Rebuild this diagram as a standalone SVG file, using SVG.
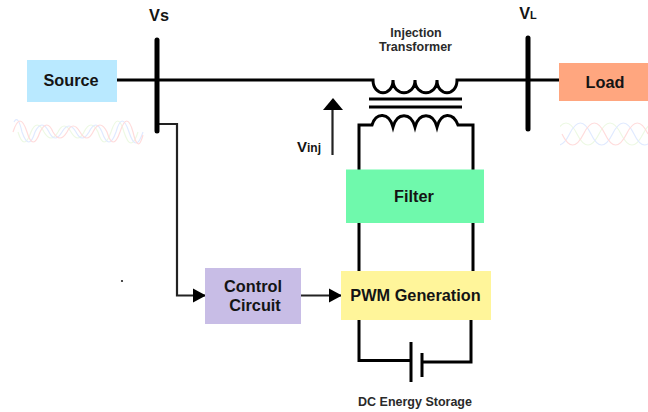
<svg xmlns="http://www.w3.org/2000/svg" width="648" height="412" viewBox="0 0 648 412">
<style>
text{font-family:"Liberation Sans",Arial,sans-serif;font-weight:bold;fill:#141414;text-anchor:middle}
.n{font-size:16.3px}
.s{font-size:12.5px;fill:#2a2a2a}
.w{fill:none;stroke:#000;stroke-width:3;stroke-linejoin:miter}
.bus{fill:none;stroke:#000;stroke-width:5;stroke-linecap:round}
.t{fill:none;stroke:#222;stroke-width:2.2}
.wave{fill:none;stroke-width:1.2}
.r{stroke:#ffdcdc}.b{stroke:#e0eaff}.g{stroke:#edf9e4}
</style>
<defs>
<marker id="ah" markerUnits="userSpaceOnUse" markerWidth="13" markerHeight="16" refX="12" refY="8" orient="auto"><path d="M0 1L13 8L0 15Z" fill="#000"/></marker>
<clipPath id="rc"><rect x="560" y="115" width="88" height="36"/></clipPath>
</defs>
<rect width="648" height="412" fill="#fff"/>
<g id="waves">
<path class="wave g" d="M18 132Q24 152 31 132Q37 118 44 132Q51 144 58 132Q64 120 71 132Q78 144 84 132Q91 118 98 132Q104 152 111 132Q118 110 124 132Q131 154 138 132"/>
<path class="wave b" d="M14 122Q18 114 22 132Q29 152 35 132Q42 118 49 132Q55 144 62 132Q69 120 76 132Q82 144 89 132Q96 118 102 132Q109 152 116 132Q122 110 129 132Q136 154 143 132"/>
<path class="wave r" d="M13 132Q20 110 27 132Q33 152 40 132Q47 118 53 132Q60 144 67 132Q73 120 80 132Q87 144 93 132Q100 118 107 132Q113 152 120 132Q127 110 133 132Q138 154 143 135"/>
<g clip-path="url(#rc)">
<path class="wave g" d="M533 134Q544 156 555 134T577 134T599 134T621 134T643 134T665 134"/>
<path class="wave b" d="M548 134Q558.500 156 569.500 134T591 134T612.500 134T634 134T655.500 134"/>
<path class="wave r" d="M562 134Q572.500 156 583.500 134T605 134T626.500 134T648 134"/>
</g>
</g>
<g id="connectors">
<path class="w" d="M117 80H373C373 97 393 97 393 80C393 97 415 97 415 80C415 97 437 97 437 80C437 97 457 97 457 80H560"/>
<path class="w" d="M369 99H462M369 107H462"/>
<path class="w" d="M359 170V125H372C376 112 389 112 393 127C397 112 411 112 415 127C419 112 433 112 437 127C441 112 453 112 458 125H473V170"/>
<path class="w" d="M359 223V271M473 223V271"/>
<path class="w" d="M359 320V360.500H411M422 362H471V320"/>
<path class="w" d="M411 342V382M422 353V377"/>
<path class="t" d="M159 124H177V295.500H205" marker-end="url(#ah)"/>
<path class="t" d="M301 295.500H341" marker-end="url(#ah)"/>
<path class="t" d="M332.500 155V105"/>
<path d="M333 98L343 110H323Z" fill="#000"/>
<circle cx="122" cy="281" r="1.100" fill="#222"/>
</g>
<g id="bus-vs"><path class="bus" d="M157 40V131"/><text x="159" y="21" class="n">Vs</text></g>
<g id="bus-vl"><path class="bus" d="M528 38V129"/><text x="528" y="19" class="n">V<tspan font-size="11px">L</tspan></text></g>
<g id="source"><rect x="27" y="60" width="90" height="42" fill="#b9e9ff"/><text x="71" y="86" class="n">Source</text></g>
<g id="load"><rect x="559" y="63" width="89" height="38" fill="#ffa67f"/><text x="605" y="88" class="n">Load</text></g>
<g id="injection-transformer"><text x="416" y="37" class="s">Injection</text><text x="415.500" y="51" class="s">Transformer</text></g>
<g id="vinj"><text x="309" y="152" font-size="15px">V<tspan font-size="12px">inj</tspan></text></g>
<g id="filter"><rect x="346" y="169.500" width="138" height="53.500" fill="#6ff9ac"/><text x="414" y="202" class="n">Filter</text></g>
<g id="control-circuit"><rect x="205" y="268" width="96" height="56" fill="#c8bde6"/><text x="253" y="292" class="n">Control</text><text x="255" y="311" class="n">Circuit</text></g>
<g id="pwm-generation"><rect x="341" y="271" width="150" height="49" fill="#fff59a"/><text x="415.500" y="301" class="n">PWM Generation</text></g>
<g id="dc-energy-storage"><text x="415" y="406" class="s">DC Energy Storage</text></g>
</svg>
